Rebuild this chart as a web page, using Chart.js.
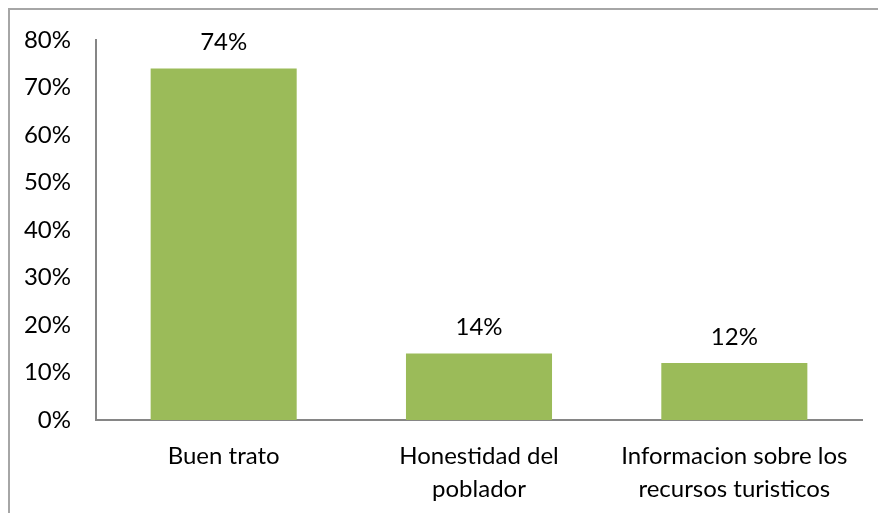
<!DOCTYPE html>
<html>
<head>
<meta charset="utf-8">
<script src="https://cdn.jsdelivr.net/npm/chart.js@4.4.0/dist/chart.umd.min.js"></script>
<style>
  html, body { margin: 0; padding: 0; background: #fff; }
  #wrap { width: 878px; height: 513px; }
</style>
</head>
<body>
<div id="wrap"><canvas id="myChart" width="878" height="513"></canvas></div>
<script>
// data
var categories = [ "Buen trato", ["Honestidad del", "poblador"], ["Informacion sobre los", "recursos turisticos"] ];
var values = [ 74, 14, 12 ];
var tickMax = 80;
var tickStep = 10;

var FONT = "Lato, 'Open Sans', sans-serif";

/* frame around the chart (only the top and left edges are in the picture) */
var framePlugin = {
	id : "frame",
	beforeDraw : function(chart) {
		var ctx = chart.ctx;
		ctx.save();
		ctx.strokeStyle = "#a6a6a6";
		ctx.lineWidth = 2;
		ctx.beginPath();
		ctx.moveTo(9, chart.height);
		ctx.lineTo(9, 9);
		ctx.lineTo(chart.width, 9);
		ctx.stroke();
		ctx.restore();
	}
};

/* value labels above the bars */
var labelPlugin = {
	id : "barLabels",
	afterDatasetsDraw : function(chart) {
		var ctx = chart.ctx;
		var meta = chart.getDatasetMeta(0);
		ctx.save();
		ctx.font = "24px " + FONT;
		ctx.fillStyle = "#000";
		ctx.textAlign = "center";
		ctx.textBaseline = "middle";
		meta.data.forEach(function(bar, i) {
			ctx.fillText(values[i] + "%", bar.x, bar.y - 26);
		});
		ctx.restore();
	}
};

new Chart(document.getElementById("myChart"), {
	type : "bar",
	data : {
		labels : categories,
		datasets : [ {
			data : values,
			backgroundColor : "#9bbb59",
			borderWidth : 0,
			barPercentage : 0.572,
			categoryPercentage : 1
		} ]
	},
	plugins : [ framePlugin, labelPlugin ],
	options : {
		responsive : false,
		animation : false,
		events : [],
		layout : {
			padding : { left : 0, right : 16, top : 40, bottom : 0 }
		},
		plugins : {
			legend : { display : false },
			tooltip : { enabled : false }
		},
		scales : {
			x : {
				grid : { display : false, drawTicks : false },
				border : { display : true, color : "#868686", width : 2 },
				ticks : {
					color : "#000",
					padding : 20,
					maxRotation : 0,
					autoSkip : false,
					font : { family : FONT, size : 24, lineHeight : 1.38 }
				},
				afterFit : function(scale) { scale.height = 93; }
			},
			y : {
				min : 0,
				max : tickMax,
				grid : { display : false, drawTicks : false },
				border : { display : true, color : "#868686", width : 2 },
				ticks : {
					stepSize : tickStep,
					color : "#000",
					padding : 25,
					font : { family : FONT, size : 24 },
					callback : function(v) { return v + "%"; }
				},
				afterFit : function(scale) { scale.width = 96; }
			}
		}
	}
});
</script>
</body>
</html>
